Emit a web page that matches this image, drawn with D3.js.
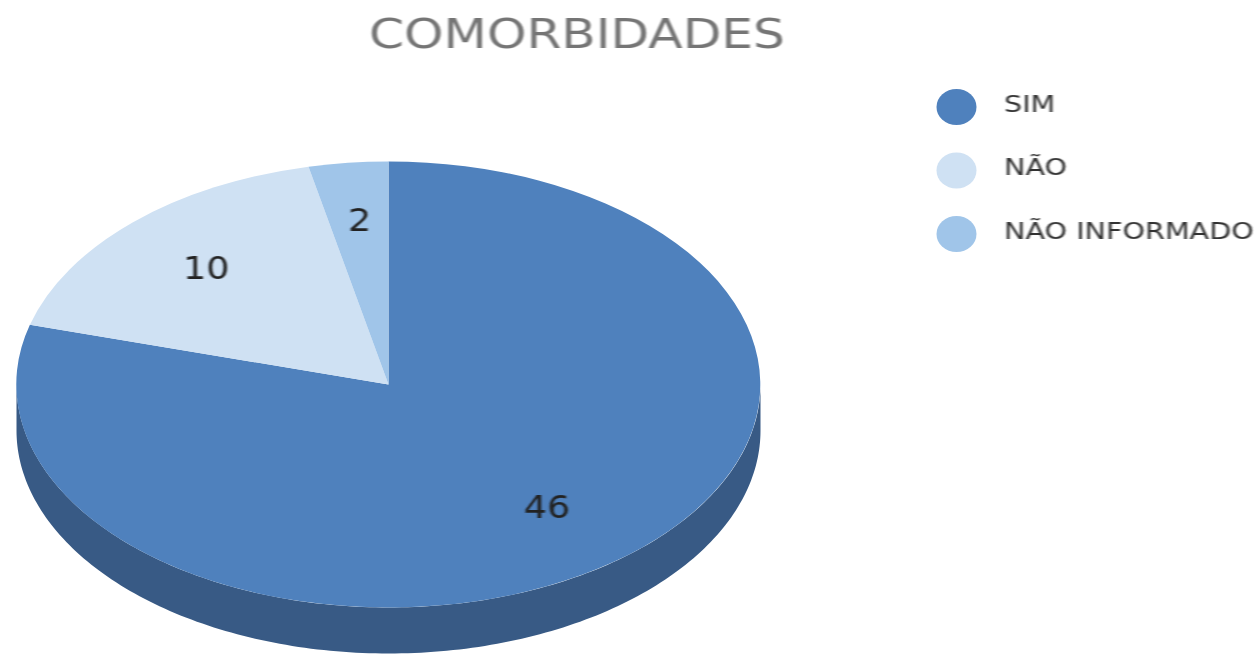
<!DOCTYPE html>
<html>
<head>
<meta charset="utf-8">
<script src="https://cdn.jsdelivr.net/npm/d3@7"></script>
<style>
    html, body { margin: 0; padding: 0; background: #fff; }
    svg { display: block; }
</style>
</head>
<body>
<svg id="chart"></svg>
<script>
const categories = ["SIM", "NÃO", "NÃO INFORMADO"];
const values = [46, 10, 2];
const colors = ["#4f81bd", "#cfe1f3", "#a0c5e9"];
const sideColor = "#385a85";

const width = 1257;
const height = 654;

const svg = d3.select("#chart")
    .attr("width", width)
    .attr("height", height);

// El original es una imagen ampliada: el texto se ve ancho y algo borroso
svg.append("defs").append("filter")
    .attr("id", "soft")
    .append("feGaussianBlur")
    .attr("stdDeviation", 0.7);

// Centro y radios de la elipse
const cx = 388.5, cy = 384.5, rx = 372, ry = 223, depth = 46;

const pie = d3.pie().sort(null).value(d => d.value);
const slices = pie(categories.map((c, i) => ({ name: c, value: values[i], color: colors[i] })));

// Arco unitario, aplastado con scale para hacer la elipse
const arc = d3.arc().innerRadius(0).outerRadius(1);

// Lateral: franja visible de la parte inferior
const sidePts = d3.range(0, 181).map(i => {
    const t = Math.PI * i / 180;
    return [cx + rx * Math.cos(t), cy + ry * Math.sin(t)];
});
const side = "M" + sidePts.map(p => p.join(",")).join("L")
    + "L" + sidePts.slice().reverse().map(p => [p[0], p[1] + depth].join(",")).join("L") + "Z";
svg.append("path").attr("d", side).attr("fill", sideColor);

svg.append("g")
    .attr("transform", `translate(${cx},${cy}) scale(${rx},${ry})`)
    .selectAll("path")
    .data(slices)
    .enter()
    .append("path")
    .attr("d", arc)
    .attr("fill", d => d.data.color);

// Etiquetas de valores
const labelOffsets = [[0.426, 0.55], [-0.49, -0.525], [-0.078, -0.74]];
svg.selectAll("text.value")
    .data(slices)
    .enter()
    .append("text")
    .attr("class", "value")
    .attr("transform", (d, i) => `translate(${cx + labelOffsets[i][0] * rx},${cy + labelOffsets[i][1] * ry}) scale(1.14,1)`)
    .attr("text-anchor", "middle")
    .attr("dominant-baseline", "central")
    .attr("font-family", "'DejaVu Sans', sans-serif")
    .attr("font-size", 32)
    .attr("fill", "#222")
    .attr("filter", "url(#soft)")
    .text(d => d.data.value);

svg.append("text")
    .attr("transform", "translate(577,48) scale(1.225,1)")
    .attr("text-anchor", "middle")
    .attr("font-family", "'DejaVu Sans', sans-serif")
    .attr("font-size", 41)
    .attr("fill", "#757575")
    .attr("filter", "url(#soft)")
    .text("COMORBIDADES");

// Leyenda
const legend = svg.append("g");
const legendY = d3.scalePoint().domain(categories).range([107, 234]);

legend.selectAll("ellipse")
    .data(slices)
    .enter()
    .append("ellipse")
    .attr("cx", 956.5)
    .attr("cy", d => legendY(d.data.name))
    .attr("rx", 20)
    .attr("ry", 18)
    .attr("fill", d => d.data.color);

legend.selectAll("text")
    .data(slices)
    .enter()
    .append("text")
    .attr("transform", d => `translate(1004,${legendY(d.data.name) - 3}) scale(1.245,1)`)
    .attr("dominant-baseline", "central")
    .attr("font-family", "'DejaVu Sans', sans-serif")
    .attr("font-size", 23)
    .attr("fill", "#333")
    .attr("filter", "url(#soft)")
    .text(d => d.data.name);
</script>
</body>
</html>
